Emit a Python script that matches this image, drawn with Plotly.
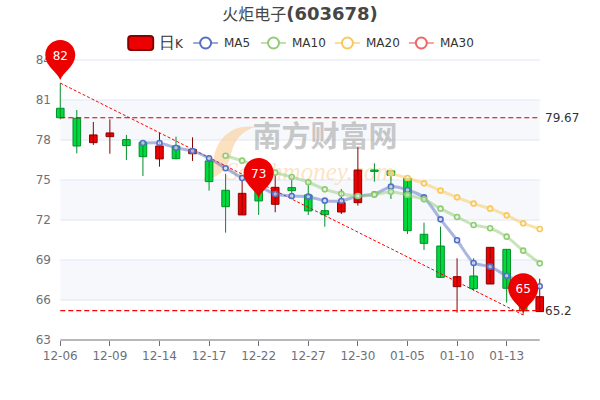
import plotly.graph_objects as go

dates = ["12-06","12-07","12-08","12-09","12-10","12-13","12-14","12-15","12-16","12-17",
         "12-20","12-21","12-22","12-23","12-24","12-27","12-28","12-29","12-30","12-31",
         "01-04","01-05","01-06","01-07","01-10","01-11","01-12","01-13","01-14","01-17"]
opens  = [80.38,79.63,77.80,78.25,78.03,77.83,76.58,77.55,76.97,76.43,74.23,72.38,74.20,73.18,74.43,73.88,72.70,72.60,73.30,75.75,75.68,75.13,70.93,70.05,67.00,67.80,67.20,69.80,66.50,65.13]
closes = [79.67,77.55,78.38,78.53,77.58,76.75,77.55,76.60,77.30,74.88,73.00,74.00,73.43,74.45,74.20,72.68,72.40,73.30,75.75,75.65,75.35,71.20,70.25,67.70,67.75,66.85,69.95,66.88,65.20,66.25]
highs  = [82.27,80.25,79.35,79.55,78.38,77.83,78.55,78.25,78.20,76.85,75.47,75.00,75.00,75.38,75.30,75.00,73.30,74.30,77.45,76.25,75.75,75.13,71.80,71.50,69.13,69.13,69.95,69.80,67.00,67.60]
lows   = [79.55,77.00,77.63,76.97,76.50,75.30,76.00,76.55,76.43,74.20,71.05,72.38,72.38,72.58,73.65,72.38,71.50,72.45,73.08,74.88,73.58,70.95,69.75,67.70,65.05,66.70,67.20,65.80,64.88,65.13]
ma5 = [None]*5 + [77.78,77.78,77.42,77.18,76.63,75.88,75.15,74.55,73.95,73.80,73.75,73.45,73.43,73.80,73.93,74.50,74.25,73.70,72.05,70.48,68.78,68.50,67.82,67.35,67.03]
ma10 = [None]*10 + [76.82,76.45,75.98,75.55,75.23,74.83,74.30,73.97,73.80,73.90,74.12,73.88,73.55,72.85,72.23,71.63,71.38,70.75,69.70,68.75]
ma20 = [None]*20 + [75.50,75.15,74.75,74.20,73.70,73.23,72.85,72.35,71.75,71.33]
ma30 = [None]*30
y_ticks = [63,66,69,72,75,78,81,84]
avg_close = 79.67
min_close = 65.2
pin_index = [0,12,28]
pin_tip = [82.5,73.65,65.0]
pin_text = ["82","73","65"]
trend_index = [0,28]
trend_value = [82.27,64.88]

idx = list(range(len(dates)))
GREEN, GREEN_D, RED, RED_D = "#00da3c", "#008F28", "#ec0000", "#8A0000"
FONT = "DejaVu Sans"
Y0, Y1 = 63, 84
X1 = len(dates) - 1
ML = 51.7
PW = 600 - 2 * ML

def px(x): return (x - ML) / PW
def py(y): return (340 - y) / 280
def xfrac(i): return (i + 0.5) / (X1 + 1)
def yfrac(v): return (v - Y0) / (Y1 - Y0)

fig = go.Figure()

# candles
for rising, fill, edge in ((True, RED, RED_D), (False, GREEN, GREEN_D)):
    sel = [i for i in idx if (closes[i] > opens[i]) == rising]
    wx, wy = [], []
    for i in sel:
        wx += [i, i, None]
        wy += [lows[i], highs[i], None]
    fig.add_trace(go.Scatter(x=wx, y=wy, mode="lines", line=dict(color=edge, width=1), hoverinfo="skip"))
    fig.add_trace(go.Bar(x=sel, y=[abs(closes[i]-opens[i]) for i in sel],
                         base=[min(closes[i],opens[i]) for i in sel],
                         width=0.46, marker=dict(color=fill, line=dict(color=edge, width=1))))

# reference lines
fig.add_trace(go.Scatter(x=[0,X1], y=[avg_close]*2, mode="lines",
                         line=dict(color="#c8000a", width=1.2, dash="5px,3px"), hoverinfo="skip"))
fig.add_trace(go.Scatter(x=[0,X1], y=[min_close]*2, mode="lines",
                         line=dict(color="#ff0000", width=1.2, dash="5px,3px"), hoverinfo="skip"))
fig.add_trace(go.Scatter(x=trend_index, y=trend_value, mode="lines",
                         line=dict(color="#ff0000", width=1, dash="3px,2px"), hoverinfo="skip"))

# moving averages
for name, vals, col, rgba in (("MA5", ma5, "#5470c6", "rgba(84,112,198,0.5)"),
                              ("MA10", ma10, "#91cc75", "rgba(145,204,117,0.5)"),
                              ("MA20", ma20, "#fac858", "rgba(250,200,88,0.5)"),
                              ("MA30", ma30, "#ee6666", "rgba(238,102,102,0.5)")):
    fig.add_trace(go.Scatter(x=idx, y=vals, name=name, mode="lines+markers",
                             line=dict(color=rgba, width=3, shape="spline", smoothing=0.6),
                             marker=dict(size=5, color="rgba(255,255,255,0.6)", line=dict(color=col, width=1.6))))

shapes = []
# alternating bands
for a, b in [(66,69),(72,75),(78,81)]:
    shapes.append(dict(type="rect", xref="paper", x0=xfrac(0), x1=xfrac(X1), yref="paper", y0=yfrac(a), y1=yfrac(b),
                       fillcolor="#f6f8fc", line_width=0, layer="below"))
# grid lines and axis line
for t in y_ticks[1:]:
    shapes.append(dict(type="line", xref="paper", x0=xfrac(0), x1=xfrac(X1), yref="paper", y0=yfrac(t), y1=yfrac(t),
                       line=dict(color="#E0E6F1", width=1), layer="below"))
shapes.append(dict(type="line", xref="paper", x0=xfrac(0), x1=xfrac(X1), yref="paper", y0=0, y1=0,
                   line=dict(color="#6E7079", width=1), layer="below"))
# logo crescent watermark
shapes.append(dict(type="path", xref="paper", yref="paper", layer="below", line_width=0,
                   fillcolor="rgba(250,205,150,0.6)",
                   path=f"M {px(255)} {py(127)} C {px(232)} {py(124)} {px(218)} {py(138)} {px(214)} {py(156)} "
                        f"C {px(212)} {py(166)} {px(209)} {py(174)} {px(203)} {py(180)} "
                        f"C {px(220)} {py(178)} {px(228)} {py(168)} {px(231)} {py(154)} "
                        f"C {px(234)} {py(140)} {px(242)} {py(131)} {px(255)} {py(127)} Z"))
# watermark text, kept beneath the data
shapes.append(dict(type="rect", xref="paper", yref="paper", layer="below", line_width=0, fillcolor="rgba(0,0,0,0)",
                   x0=px(245), x1=px(405), y0=py(123), y1=py(155),
                   label=dict(text="<b>南方财富网</b>", textposition="middle center", padding=0,
                              font=dict(family="Noto Sans CJK SC", size=29, color="rgba(170,170,170,0.65)"))))
shapes.append(dict(type="rect", xref="paper", yref="paper", layer="below", line_width=0, fillcolor="rgba(0,0,0,0)",
                   x0=px(210), x1=px(410), y0=py(154), y1=py(182),
                   label=dict(text="<i>Southmoney.com</i>", textposition="middle center", padding=0,
                              font=dict(family="Liberation Serif", size=25, color="rgba(250,200,140,0.5)"))))
# legend
shapes.append(dict(type="path", xref="paper", yref="paper", fillcolor=RED, line=dict(color=RED_D, width=2),
                   path=f"M {px(131)} {py(36)} L {px(150)} {py(36)} Q {px(153)} {py(36)} {px(153)} {py(39)} "
                        f"L {px(153)} {py(47)} Q {px(153)} {py(50)} {px(150)} {py(50)} L {px(131)} {py(50)} "
                        f"Q {px(128)} {py(50)} {px(128)} {py(47)} L {px(128)} {py(39)} Q {px(128)} {py(36)} {px(131)} {py(36)} Z"))
annos = [dict(xref="paper", yref="paper", x=px(157), y=py(42), xanchor="left", yanchor="middle", showarrow=False,
              text="<span style='font-size:16px'>日</span>K", font=dict(family=FONT, size=12, color="#333"))]
for name, col, rgba, x0 in (("MA5", "#5470c6", "rgba(84,112,198,0.6)", 193), ("MA10", "#91cc75", "rgba(145,204,117,0.6)", 261),
                            ("MA20", "#fac858", "rgba(250,200,88,0.6)", 335), ("MA30", "#ee6666", "rgba(238,102,102,0.6)", 409)):
    shapes.append(dict(type="line", xref="paper", yref="paper", x0=px(x0), x1=px(x0+25), y0=py(43), y1=py(43),
                       line=dict(color=rgba, width=2)))
    shapes.append(dict(type="circle", xref="paper", yref="paper", x0=px(x0+7), x1=px(x0+18), y0=py(37.5), y1=py(48.5),
                       fillcolor="white", line=dict(color=col, width=2)))
    annos.append(dict(xref="paper", yref="paper", x=px(x0+29), y=py(43), xanchor="left", yanchor="middle", showarrow=False,
                      text=name, font=dict(family=FONT, size=12, color="#333")))
# pins
PIN = "M 0 0 C -3 8 -15 14 -15 25 C -15 33.3 -8.3 40 0 40 C 8.3 40 15 33.3 15 25 C 15 14 3 8 0 0 Z"
for i, v, t in zip(pin_index, pin_tip, pin_text):
    shapes.append(dict(type="path", xref="paper", yref="paper", xsizemode="pixel", ysizemode="pixel",
                       xanchor=xfrac(i), yanchor=yfrac(v), path=PIN, fillcolor="#ec0000", line_width=0,
                       label=dict(text=t, textposition="top center", padding=8,
                                  font=dict(family=FONT, size=12, color="white"))))
# right labels
for v, t in ((avg_close, "79.67"), (min_close, "65.2")):
    annos.append(dict(xref="x", x=X1, xshift=3, yref="y", y=v, xanchor="left", showarrow=False,
                      text=t, font=dict(family=FONT, size=12, color="#333")))

fig.update_layout(
    width=600, height=400, autosize=False,
    margin=dict(l=ML, r=ML, t=60, b=60),
    paper_bgcolor="white", plot_bgcolor="rgba(0,0,0,0)",
    showlegend=False, barmode="overlay",
    title=dict(text="<span style='font-size:16px'>火炬电子</span><b>(603678)</b>", x=0.5, xanchor="center", xref="paper", y=0.967, yanchor="middle",
               font=dict(family=FONT + ", Noto Sans CJK SC", size=18, color="#464646")),
    shapes=shapes, annotations=annos,
    xaxis=dict(range=[-0.5, X1 + 0.5], tickmode="array", tickvals=idx[::3], ticktext=dates[::3],
               showgrid=False, zeroline=False, showline=False,
               ticks="outside", ticklen=5, tickcolor="#6E7079",
               tickfont=dict(family=FONT, size=12, color="#6E7079")),
    yaxis=dict(range=[Y0, Y1], tickmode="array", tickvals=y_ticks, showgrid=False,
               zeroline=False, showline=False, ticks="",
               tickfont=dict(family=FONT, size=12, color="#6E7079")),
)
fig.write_html("out.html", config={"displayModeBar": False}, post_script="document.body.style.margin='0';")
